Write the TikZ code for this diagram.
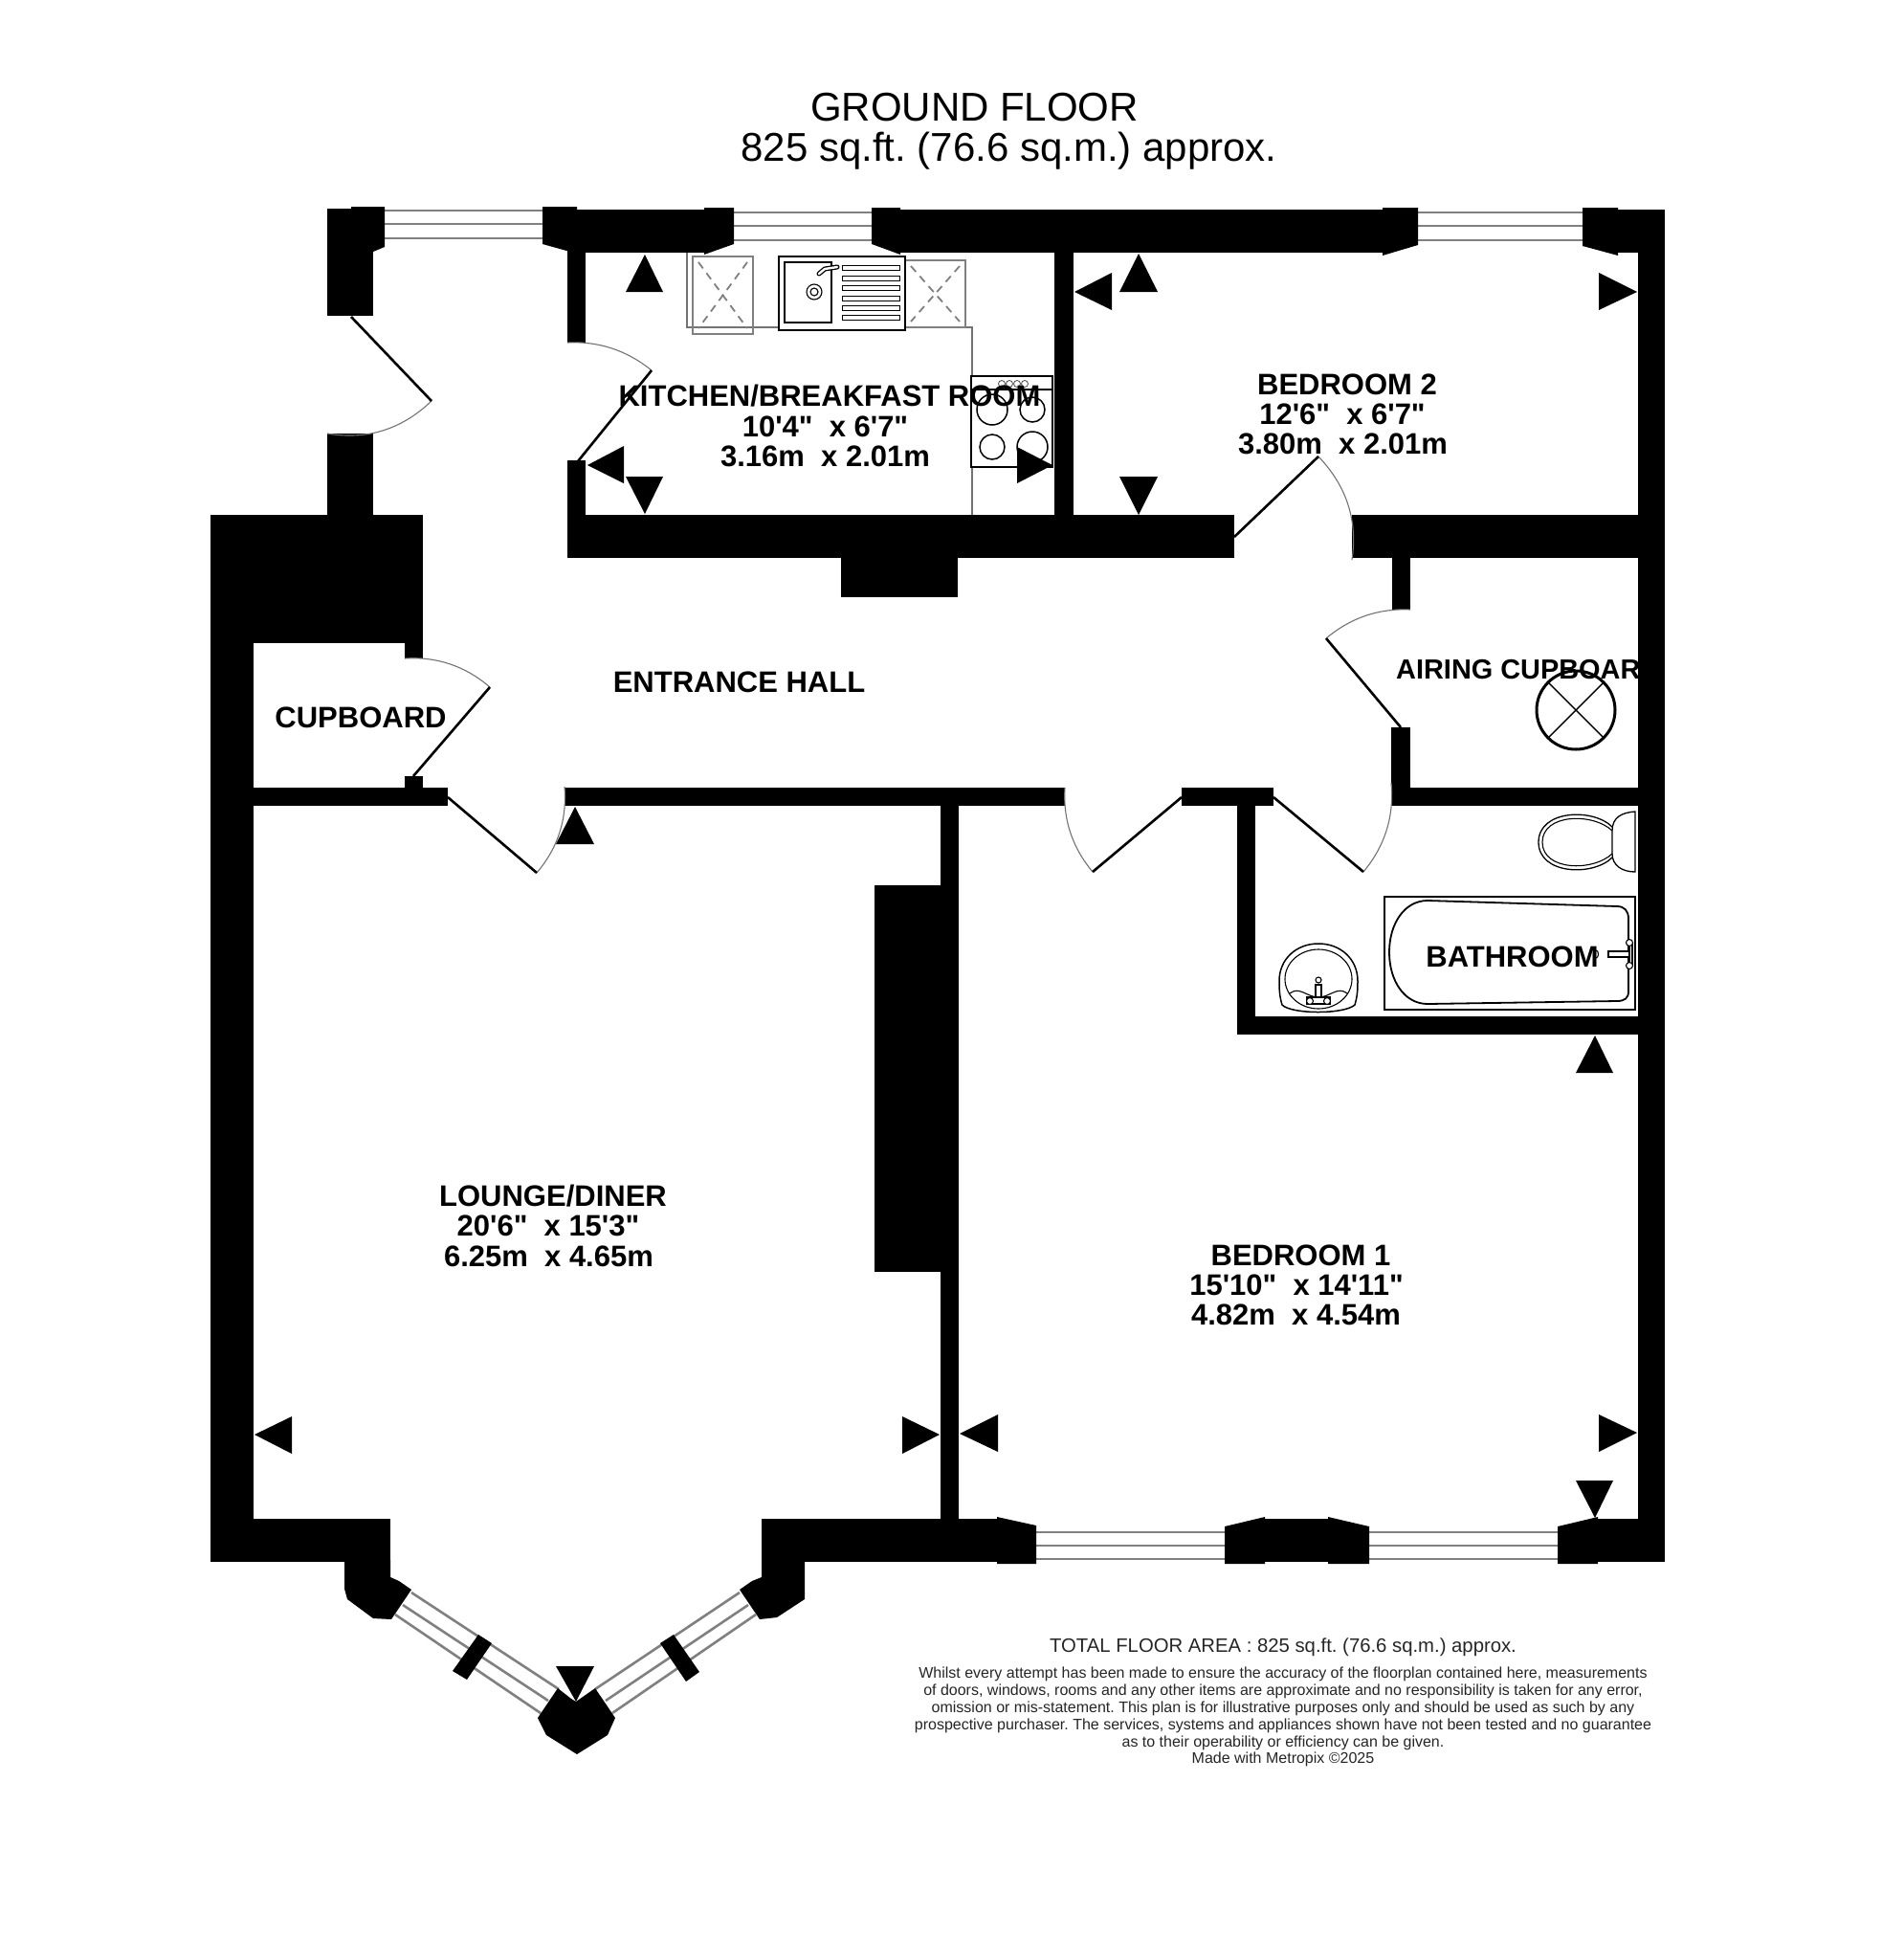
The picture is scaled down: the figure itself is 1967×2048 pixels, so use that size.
\documentclass[tikz,border=0pt]{standalone}
\usepackage{fontspec}
\newfontfamily\lsans{Liberation Sans}
\frenchspacing
\tikzset{
  wallfill/.style={fill=black,draw=none},
  glass/.style={draw=black!50,line width=2.6pt},
  arrowmark/.style={fill=black,draw=none},
  leaf/.style={draw=black,line width=2.6pt},
  swing/.style={draw=black!55,line width=1.1pt},
  fit1/.style={draw=black,line width=1.8pt,fill=white},
  fit2/.style={draw=black,line width=1.1pt},
  greyline/.style={draw=black!55,line width=1.1pt},
  hobgrey/.style={draw=black!50,line width=2.6pt},
  hobx/.style={draw=black!50,line width=1.8pt,dash pattern=on 8pt off 6pt},
  roomlabel/.style={anchor=base,inner sep=0pt,font=\lsans\bfseries\fontsize{31}{31}\selectfont},
  titlelabel/.style={anchor=base,inner sep=0pt,font=\lsans\fontsize{42}{42}\selectfont},
  notelabel/.style={anchor=base,inner sep=0pt,text=black!85,font=\lsans\fontsize{16}{17}\selectfont},
  arealabel/.style={anchor=base,inner sep=0pt,text=black!85,font=\lsans\fontsize{20.3}{22}\selectfont}
}
\newcommand\doorleaf[6]{%
  \pgfmathsetmacro\ux{(#3-#1)/100}\pgfmathsetmacro\uy{(#4-#2)/100}%
  \pgfmathsetmacro\vx{(#5-#1)/100}\pgfmathsetmacro\vy{(#6-#2)/100}%
  \pgfmathsetmacro\fc{(\ux*\ux+\uy*\uy)/(\ux*\ux+\uy*\uy+\ux*\vx+\uy*\vy)}%
  \pgfmathsetmacro\cx{#1+100*\fc*(\ux+\vx)}\pgfmathsetmacro\cy{#2+100*\fc*(\uy+\vy)}%
  \pgfmathsetmacro\ax{#3+2/3*(\cx-#3)}\pgfmathsetmacro\ay{#4+2/3*(\cy-#4)}%
  \pgfmathsetmacro\bx{#5+2/3*(\cx-#5)}\pgfmathsetmacro\by{#6+2/3*(\cy-#6)}%
  \draw[swing] (#3,#4) .. controls (\ax,\ay) and (\bx,\by) .. (#5,#6);
  \draw[leaf] (#1,#2) -- (#3,#4);
}
\begin{document}
\begin{tikzpicture}[x=1pt,y=-1pt]
\useasboundingbox (0,0) rectangle (1967,2048);
\fill[white] (0,0) rectangle (1967,2048);

% ---- fittings below walls
\draw[greyline] (718,264) -- (718,342) -- (1016,342) -- (1016,538);
% grey appliances
\draw[hobgrey] (724,268) rectangle (787,349);
\draw[hobx] (730,274) -- (781,343);
\draw[hobx] (781,274) -- (730,343);
\draw[hobgrey] (946,272) rectangle (1009,342);
\draw[hobx] (952,278) -- (1003,336);
\draw[hobx] (1003,278) -- (952,336);
% sink
\draw[draw=black,line width=2.6pt,fill=white] (814,268) rectangle (946,345);
\draw[fit2] (820,274) rectangle (869,337);
\foreach \yy in {280,291,301,312,322,332} \draw[draw=black,line width=.9pt] (880,\yy-2.5) rectangle (940,\yy+2.5);
\draw[fit2] (851,305) ellipse [x radius=8,y radius=8];
\draw[fit2] (851,305) ellipse [x radius=4,y radius=4];
\draw[draw=black,line width=5pt,line cap=round] (856,286) -- (862,281) -- (875,279);
\draw[draw=white,line width=2.4pt,line cap=round] (856,286) -- (862,281) -- (875,279);
% cooker
\draw[draw=black,line width=2.2pt,fill=white] (1015,393) rectangle (1100,488);
\draw[fit2] (1015,407) -- (1100,407);
\foreach \xx in {1047,1055,1063,1071} \draw[draw=black!70,line width=.8pt] (\xx,401) circle [radius=3.5];
\draw[fit2,line width=1.5pt] (1037,428) circle [radius=16];
\draw[fit2,line width=1.5pt] (1079,428) circle [radius=13];
\draw[fit2,line width=1.5pt] (1037,467) circle [radius=13];
\draw[fit2,line width=1.5pt] (1079,467) circle [radius=16];
% boiler
\draw[draw=black,line width=3pt] (1647,742) circle [radius=41];
\draw[draw=black,line width=1.4pt] (1618,713) -- (1676,771);
\draw[draw=black,line width=1.4pt] (1676,713) -- (1618,771);
% WC
\draw[fit1,line width=1.3pt] (1685,864) .. controls (1665,844) and (1608,846) .. (1608,880) .. controls (1608,914) and (1665,916) .. (1685,896);
\draw[fit2] (1685,868) .. controls (1665,849) and (1612,850) .. (1612,880) .. controls (1612,910) and (1665,911) .. (1685,892);
\draw[fit1,line width=1.3pt] (1709,848) .. controls (1695,849) and (1685,854) .. (1685,868) -- (1685,892) .. controls (1685,904) and (1695,911) .. (1709,911) -- cycle;
% bath
\draw[draw=black,line width=1.2pt] (1447,937) rectangle (1709,1055);
\draw[fit2,line width=1.8pt] (1492,941) -- (1690,947) .. controls (1698,947) and (1702,952) .. (1702,960) -- (1702,1036) .. controls (1702,1043) and (1698,1046) .. (1690,1046) -- (1492,1049) .. controls (1468,1049) and (1452,1025) .. (1452,995) .. controls (1452,965) and (1468,941) .. (1492,941) -- cycle;
\draw[fit2,fill=white] (1681,994) rectangle (1704,1000);
\draw[fit2,fill=white] (1703,985) rectangle (1706,1009);
\draw[fit2,fill=white] (1703,985) circle [radius=3.5];
\draw[fit2,fill=white] (1703,1009) circle [radius=3.5];
\draw[fit2] (1668,997) ellipse [x radius=2.5,y radius=4];
% basin
\draw[fit2,line width=1.5pt] (1340,1050) .. controls (1337,1040) and (1337,1032) .. (1337,1025) .. controls (1337,1002) and (1355,986) .. (1378,986) .. controls (1401,986) and (1419,1002) .. (1419,1025) .. controls (1419,1032) and (1419,1040) .. (1416,1050) .. controls (1405,1060) and (1350,1060) .. (1340,1050) -- cycle;
\draw[fit2] (1378,1023) ellipse [x radius=35,y radius=31];
\draw[fit2] (1348,1038) .. controls (1358,1030) and (1366,1042) .. (1378,1042) .. controls (1390,1042) and (1398,1030) .. (1408,1038);
\draw[fit2,fill=white] (1375,1029) rectangle (1381,1044);
\draw[fit2,fill=white] (1378,1024) circle [radius=3];
\draw[fit2,fill=white] (1366,1042) rectangle (1390,1049);
\draw[fit2,fill=white] (1369,1046) circle [radius=3.5];
\draw[fit2,fill=white] (1387,1046) circle [radius=3.5];

% ---- window glazing
\foreach \yy in {220,234,249} \draw[glass] (400,\yy) -- (569,\yy);
\foreach \yy in {222,236,251} {\draw[glass] (765,\yy) -- (913,\yy); \draw[glass] (1480,\yy) -- (1656,\yy);}
\foreach \yy in {1601,1615,1629} {\draw[glass] (1081,\yy) -- (1282,\yy); \draw[glass] (1429,\yy) -- (1630,\yy);}
\draw[glass] (430,1664) -- (584,1765);
\draw[glass] (421,1677) -- (573,1777);
\draw[glass] (413,1687) -- (565,1790);
\draw[glass] (773,1664) -- (622,1765);
\draw[glass] (782,1677) -- (633,1777);
\draw[glass] (790,1687) -- (640,1790);

% ---- walls
\fill[wallfill] (342,218) rectangle (390,330);
\fill[wallfill] (342,453) rectangle (390,540);
\fill[wallfill] (220,538) rectangle (442,672);
\fill[wallfill] (423,672) rectangle (442,688);
\fill[wallfill] (220,538) rectangle (265,1632);
\fill[wallfill] (265,823) rectangle (468,842);
\fill[wallfill] (423,811) rectangle (442,825);
\fill[wallfill] (590,823) rectangle (1113,842);
\fill[wallfill] (1235,823) rectangle (1331,842);
\fill[wallfill] (1454,823) rectangle (1740,842);
\fill[wallfill] (1454,760) rectangle (1474,825);
\fill[wallfill] (1455,583) rectangle (1474,637);
\fill[wallfill] (1293,842) rectangle (1312,1081);
\fill[wallfill] (1293,1062) rectangle (1712,1081);
\fill[wallfill] (983,842) rectangle (1002,1590);
\fill[wallfill] (914,925) rectangle (984,1329);
\fill[wallfill] (593,262) rectangle (612,358);
\fill[wallfill] (593,481) rectangle (612,540);
\fill[wallfill] (593,538) rectangle (1290,583);
\fill[wallfill] (879,583) rectangle (1001,624);
\fill[wallfill] (1102,264) rectangle (1122,540);
\fill[wallfill] (1413,538) rectangle (1740,583);
\fill[wallfill] (600,219) rectangle (738,264);
\fill[wallfill] (940,219) rectangle (1447,264);
\fill[wallfill] (1689,219) rectangle (1740,264);
\fill[wallfill] (1712,219) rectangle (1740,1632);
\fill[wallfill] (220,1587) rectangle (408,1632);
\fill[wallfill] (796,1587) rectangle (1042,1632);
\fill[wallfill] (1322,1587) rectangle (1388,1632);
\fill[wallfill] (1668,1587) rectangle (1740,1632);
% window posts
\fill[wallfill] (367,216) -- (402,216) -- (402,258) -- (390,263) -- (367,263) -- cycle;
\fill[wallfill] (567,216) -- (603,216) -- (603,265) -- (567,255) -- cycle;
\fill[wallfill] (736,217) -- (767,217) -- (767,255) -- (736,266) -- cycle;
\fill[wallfill] (911,217) -- (941,217) -- (941,266) -- (911,255) -- cycle;
\fill[wallfill] (1445,217) -- (1482,217) -- (1482,256) -- (1445,267) -- cycle;
\fill[wallfill] (1654,217) -- (1691,217) -- (1691,267) -- (1654,257) -- cycle;
\fill[wallfill] (1042,1585) -- (1083,1594) -- (1083,1634) -- (1042,1634) -- cycle;
\fill[wallfill] (1280,1595) -- (1322,1585) -- (1322,1634) -- (1280,1634) -- cycle;
\fill[wallfill] (1388,1585) -- (1431,1595) -- (1431,1634) -- (1388,1634) -- cycle;
\fill[wallfill] (1628,1595) -- (1670,1585) -- (1670,1634) -- (1628,1634) -- cycle;
% bay
\fill[wallfill] (360,1630) -- (408,1630) -- (408,1648) -- (417,1652) -- (430,1661) -- (409,1692) -- (390,1691) -- (363,1671) -- (360,1660) -- cycle;
\fill[wallfill] (796,1630) -- (841,1630) -- (841,1671) -- (812,1690) -- (794,1692) -- (773,1661) -- (786,1652) -- (796,1648) -- cycle;
\fill[wallfill] (500,1708) -- (514,1717) -- (488,1755) -- (473,1746) -- cycle;
\fill[wallfill] (704,1708) -- (690,1717) -- (717,1757) -- (731,1747) -- cycle;
\fill[wallfill] (583,1764) -- (597,1775) -- (602,1778) -- (622,1764) -- (643,1795) -- (635,1813) -- (603,1833) -- (571,1813) -- (562,1795) -- cycle;

% ---- doors
\doorleaf{367}{331}{451}{419}{342}{453}
\doorleaf{604}{482}{681}{387}{593}{358}
\doorleaf{1290}{561}{1378}{477}{1413}{585}
\doorleaf{432}{811}{512}{718}{423}{688}
\doorleaf{468}{833}{561}{912}{590}{822}
\doorleaf{1464}{760}{1386}{667}{1474}{637}
\doorleaf{1235}{833}{1142}{911}{1113}{823}
\doorleaf{1331}{833}{1425}{911}{1454}{818}

% ---- measuring marks
\fill[arrowmark] (674,266) -- (654,305) -- (693,305) -- cycle;
\fill[arrowmark] (614,486) -- (652,466) -- (652,505) -- cycle;
\fill[arrowmark] (674,537) -- (654,498) -- (693,498) -- cycle;
\fill[arrowmark] (1100,486) -- (1063,467) -- (1063,505) -- cycle;
\fill[arrowmark] (1190,265) -- (1170,305) -- (1210,305) -- cycle;
\fill[arrowmark] (1123,305) -- (1162,285) -- (1162,324) -- cycle;
\fill[arrowmark] (1711,305) -- (1671,285) -- (1671,324) -- cycle;
\fill[arrowmark] (1190,538) -- (1170,498) -- (1210,498) -- cycle;
\fill[arrowmark] (601,843) -- (581,882) -- (621,882) -- cycle;
\fill[arrowmark] (1667,1082) -- (1647,1121) -- (1686,1121) -- cycle;
\fill[arrowmark] (266,1499) -- (305,1480) -- (305,1519) -- cycle;
\fill[arrowmark] (982,1499) -- (943,1480) -- (943,1519) -- cycle;
\fill[arrowmark] (1003,1498) -- (1043,1478) -- (1043,1517) -- cycle;
\fill[arrowmark] (1711,1497) -- (1671,1478) -- (1671,1517) -- cycle;
\fill[arrowmark] (1667,1586) -- (1647,1547) -- (1686,1547) -- cycle;
\fill[arrowmark] (602,1778) -- (581,1741) -- (621,1741) -- cycle;

% ---- labels
\node[titlelabel] (t1) at (1018.5,126) {GROUND FLOOR};
\node[titlelabel] (t2) at (1054.5,168) {825 sq.ft. (76.6 sq.m.) approx.};
\node[roomlabel] (k1) at (867,424) {KITCHEN/BREAKFAST ROOM};
\node[roomlabel] (k2) at (862.5,456) {10'4"~~x 6'7"};
\node[roomlabel] (k3) at (862.5,487) {3.16m~~x 2.01m};
\node[roomlabel] (b21) at (1408,412) {BEDROOM 2};
\node[roomlabel] (b22) at (1403,443) {12'6"~~x 6'7"};
\node[roomlabel] (b23) at (1403.5,474) {3.80m~~x 2.01m};
\node[roomlabel] (eh) at (772.5,723) {ENTRANCE HALL};
\node[roomlabel] (cb) at (377,760) {CUPBOARD};
\node[roomlabel,anchor=base west,font=\lsans\bfseries\fontsize{28.9}{28}\selectfont] (ac) at (1459,709) {AIRING CUPBOARD};
\node[roomlabel] (bt) at (1580.5,1010) {BATHROOM};
\node[roomlabel] (l1) at (578,1260) {LOUNGE/DINER};
\node[roomlabel] (l2) at (573,1291) {20'6"~~x 15'3"};
\node[roomlabel] (l3) at (573.5,1323) {6.25m~~x 4.65m};
\node[roomlabel] (b11) at (1359.5,1322) {BEDROOM 1};
\node[roomlabel] (b12) at (1355,1353) {15'10"~~x 14'11"};
\node[roomlabel] (b13) at (1354.5,1384) {4.82m~~x 4.54m};
\node[arealabel] (tfa) at (1341,1726) {TOTAL FLOOR AREA : 825 sq.ft. (76.6 sq.m.) approx.};
\node[notelabel] (n1) at (1341,1753) {Whilst every attempt has been made to ensure the accuracy of the floorplan contained here, measurements};
\node[notelabel] (n2) at (1341,1771) {of doors, windows, rooms and any other items are approximate and no responsibility is taken for any error,};
\node[notelabel] (n3) at (1341,1789) {omission or mis-statement. This plan is for illustrative purposes only and should be used as such by any};
\node[notelabel] (n4) at (1341,1807) {prospective purchaser. The services, systems and appliances shown have not been tested and no guarantee};
\node[notelabel] (n5) at (1341,1825) {as to their operability or efficiency can be given.};
\node[notelabel] (n6) at (1341,1842) {Made with Metropix \textcopyright 2025};
\end{tikzpicture}
\end{document}
